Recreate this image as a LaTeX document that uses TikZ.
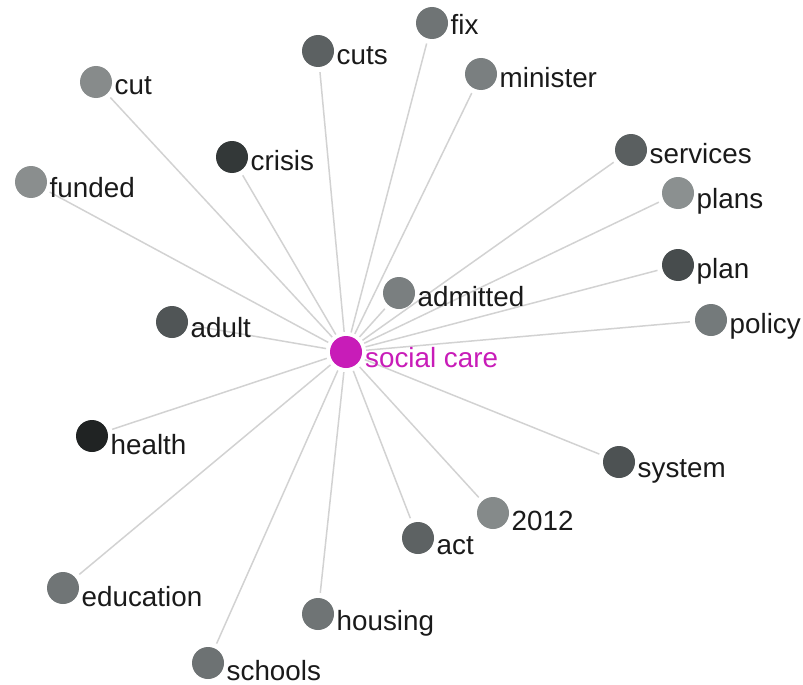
\documentclass[tikz,border=0pt]{standalone}
\usepackage{fontspec}
\setmainfont{Liberation Sans}
\usetikzlibrary{backgrounds}
\begin{document}
\begin{tikzpicture}[x=1pt,y=-1pt,
  dot/.style={circle,minimum size=32pt,inner sep=0pt},
  lbl/.style={anchor=base west,inner sep=0pt,font=\fontsize{27.8}{30}\selectfont,text=txt},
  edge/.style={draw=edgec,line width=1.5pt,shorten <=4pt,shorten >=5pt}]
\definecolor{txt}{HTML}{1A1A1A}
\definecolor{edgec}{HTML}{D2D2D2}
\definecolor{mag}{HTML}{C81CB8}
\useasboundingbox (0,0) rectangle (803,685);
\node[dot,fill=mag] (sc) at (346,352) {};
\node[lbl,text=mag] (sc-l) at (365,367) {social care};
% name / x / y / label baseline offset / fill color (hex)
\foreach \n/\x/\y/\d/\c in {
  fix/432/23/12/6F7475, cuts/318/51/13/5C6162, minister/481/74/13/7A7F80,
  cut/96/82/13/878B8B, crisis/232/157/13/333838, services/631/150/13/5A5F60,
  funded/31/182/15/8A8E8E, plans/678/193/15/8B9090, plan/678/265/13/474C4D,
  admitted/399/293/13/7A7F80, adult/172/322/15/505556, policy/711/320/13/747A7B,
  health/92/436/18/202323, system/619/462/15/4D5253, 2012/493/513/17/858A8A,
  act/418/538/16/5D6263, education/63/588/18/707576, housing/318/614/16/6F7475,
  schools/208/663/17/6D7273}{
  \definecolor{dotc}{HTML}{\c}
  \node[dot,fill=dotc] (\n) at (\x,\y) {};
  \node[lbl] (\n-l) at (\x+18.5,\y+\d) {\n};
}
\begin{pgfonlayer}{background}
\foreach \n in {fix,cuts,minister,cut,crisis,services,funded,plans,plan,
  admitted,adult,policy,health,system,2012,act,education,housing,schools}{
  \path[edge] (sc) -- (\n);
}
\end{pgfonlayer}
\end{tikzpicture}
\end{document}
